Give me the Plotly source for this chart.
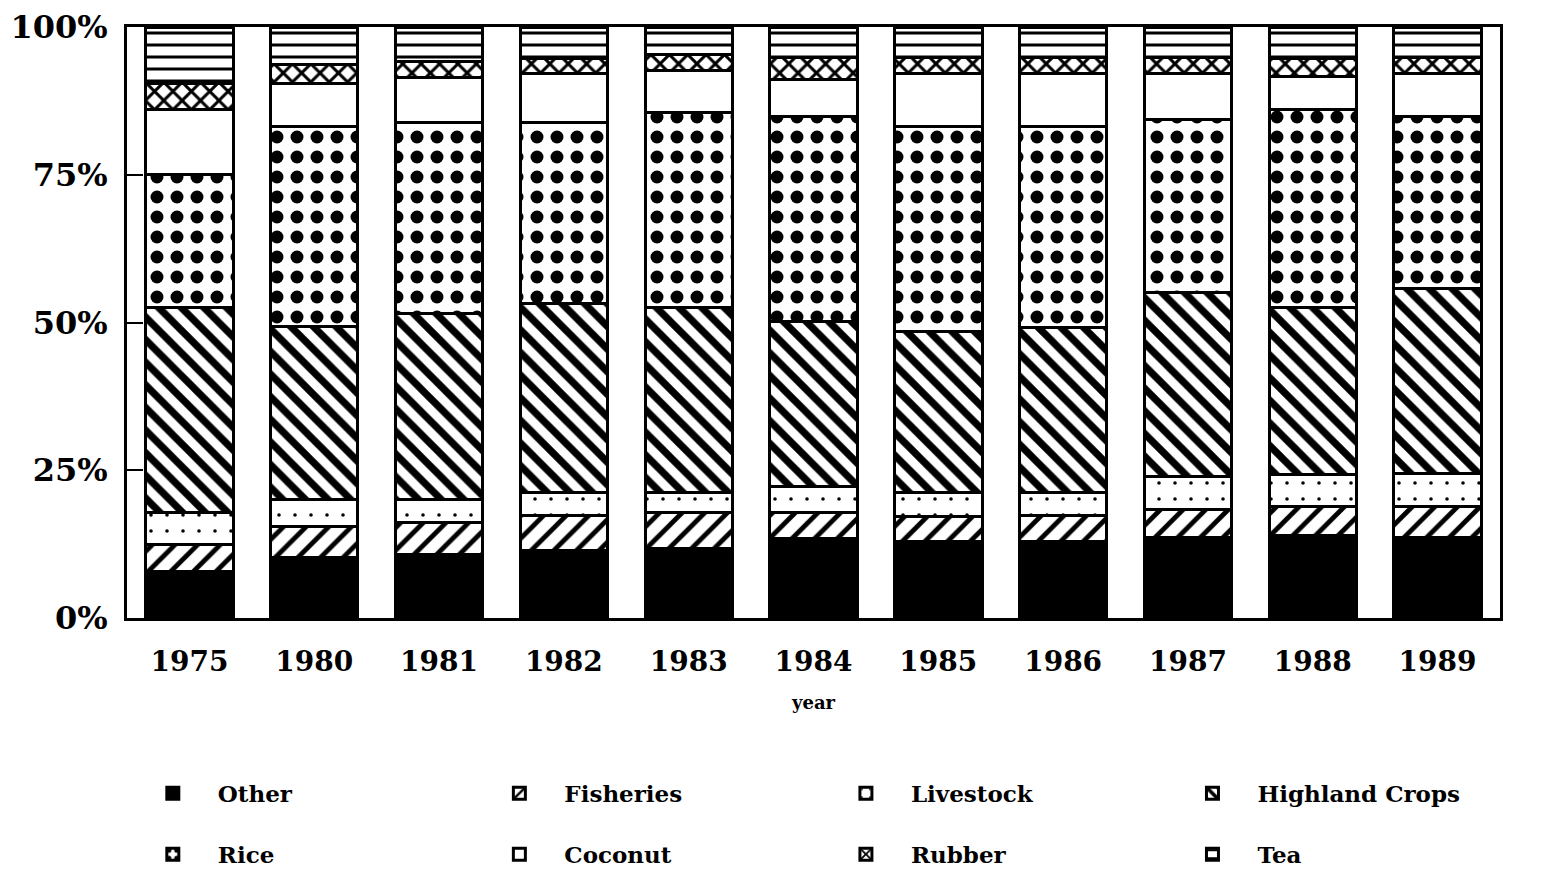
import plotly.graph_objects as go

years = ["1975", "1980", "1981", "1982", "1983", "1984", "1985", "1986", "1987", "1988", "1989"]

other = [7.8, 10.2, 10.7, 11.5, 11.8, 13.5, 12.9, 12.9, 13.7, 14.0, 13.7]
fisheries = [4.6, 5.2, 5.4, 5.9, 6.0, 4.4, 4.2, 4.4, 4.7, 4.9, 5.1]
livestock = [5.4, 4.6, 3.9, 3.8, 3.4, 4.3, 4.2, 3.9, 5.5, 5.3, 5.7]
highland = [34.8, 29.4, 31.6, 32.1, 31.4, 27.9, 27.1, 28.0, 31.1, 28.4, 31.2]
rice = [22.4, 33.7, 32.3, 30.6, 33.0, 34.7, 34.8, 34.0, 29.4, 33.4, 29.1]
coconut = [11.1, 7.4, 7.5, 8.3, 7.1, 6.4, 9.0, 9.0, 7.8, 5.7, 7.4]
rubber = [4.4, 3.1, 2.7, 2.4, 2.6, 3.6, 2.6, 2.7, 2.7, 2.9, 2.7]
tea = [9.5, 6.4, 5.9, 5.4, 4.7, 5.2, 5.2, 5.1, 5.1, 5.4, 5.1]

# name, values, pattern shape, pattern size, solidity, bar fill, legend column
series = [
    ("Other", other, "", 8, 0.3, "black", "legend"),
    ("Fisheries", fisheries, "/", 16, 0.3, "white", "legend2"),
    ("Livestock", livestock, ".", 16, 0.04, "white", "legend3"),
    ("Highland Crops", highland, "\\", 16, 0.45, "white", "legend4"),
    ("Rice", rice, ".", 20, 0.33, "white", "legend"),
    ("Coconut", coconut, "", 8, 0.3, "white", "legend2"),
    ("Rubber", rubber, "x", 13, 0.4, "white", "legend3"),
    ("Tea", tea, "-", 12, 0.25, "white", "legend4"),
]

font = "DejaVu Serif"

fig = go.Figure()
for name, vals, shape, size, sol, fill, leg in series:
    fig.add_trace(go.Bar(
        x=years, y=vals, name=name, legend=leg, legendgroup=name,
        marker=dict(
            color=fill,
            line=dict(color="black", width=3),
            pattern=dict(shape=shape, fgcolor="black", bgcolor=fill, fgopacity=1,
                         size=size, solidity=sol, fillmode="overlay"),
        ),
    ))

def legend_col(x):
    return dict(
        orientation="v", x=x, xanchor="left",
        xref="paper", yref="container", y=0.124, yanchor="top",
        itemwidth=80, tracegroupgap=28, traceorder="grouped",
        bgcolor="rgba(0,0,0,0)",
        font=dict(family=font, size=23, color="black", weight="bold"),
    )

col_step = 0.2524
fig.update_layout(
    barmode="stack",
    bargap=0.3,
    width=1553, height=872,
    margin=dict(l=119, r=61, t=19, b=262),
    plot_bgcolor="white", paper_bgcolor="white",
    font=dict(family=font, color="black"),
    legend=legend_col(0.0006),
    legend2=legend_col(0.0006 + col_step),
    legend3=legend_col(0.0006 + 2 * col_step),
    legend4=legend_col(0.0006 + 3 * col_step),
    xaxis=dict(
        automargin=False,
        showline=True, linecolor="black", linewidth=3, mirror=True,
        ticks="", tickfont=dict(family=font, size=28, weight="bold"),
        ticklabelstandoff=16,
        title=dict(text="year", font=dict(family=font, size=18, weight="bold"), standoff=20),
    ),
    yaxis=dict(
        automargin=False,
        range=[0, 100], tickvals=[0, 25, 50, 75, 100],
        ticktext=["0%", "25%", "50%", "75%", "100%"],
        showline=True, linecolor="black", linewidth=3, mirror=True,
        ticks="inside", ticklen=16, tickwidth=2, tickcolor="black",
        showgrid=False, zeroline=False,
        tickfont=dict(family=font, size=32, weight="bold"),
        ticklabelstandoff=10,
    ),
)

fig.write_html("out.html")
